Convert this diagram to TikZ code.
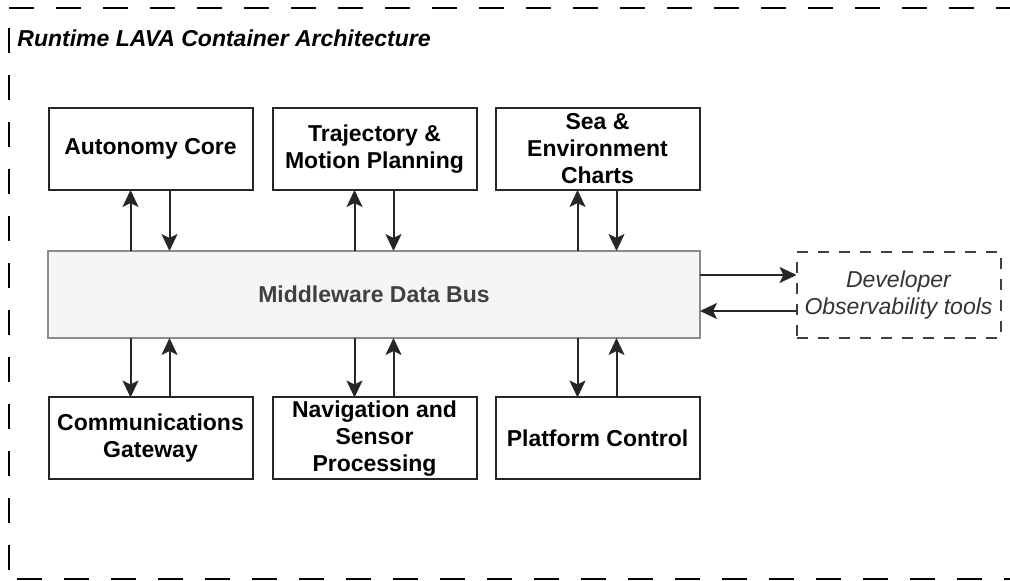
\documentclass[tikz,border=0pt]{standalone}
\usepackage{fontspec}
\setmainfont{Liberation Sans}
\usepackage{xcolor}
\usepackage{tikz}
\usetikzlibrary{arrows.meta}
\definecolor{busfill}{HTML}{F5F5F5}
\definecolor{busline}{HTML}{8C8C8C}
\newcommand{\boxfont}{\fontsize{11.5}{13.5}\selectfont}
\tikzstyle{block} = [draw=black!85, line width=1pt, minimum width=102pt, minimum height=41pt, inner sep=0pt, outer sep=0pt, align=center, font=\boxfont\bfseries]
\tikzstyle{bus} = [block, draw=busline, fill=busfill, minimum width=326pt, minimum height=43.5pt, text=black!75]
\tikzstyle{tool} = [draw=black!75, line width=1pt, dash pattern=on 5.5pt off 5pt, minimum width=102pt, minimum height=43pt, inner sep=0pt, outer sep=0pt, align=center, font=\boxfont\itshape, text=black!80]
\tikzstyle{arrow} = [line width=1pt, draw=black!85, -{Stealth[length=8.5pt,width=8pt,inset=2pt]}]
\tikzstyle{frame} = [line width=1pt, dash pattern=on 12.5pt off 11pt]

\begin{document}
\begin{tikzpicture}[x=0.5pt,y=-0.5pt]
	\useasboundingbox (0,0) rectangle (1010,581);
	
	% Container:
	% Only the top, left and bottom sides are seen, the right one lies outside
	\draw [frame] (9,8) -- (1030,8);
	\draw [frame, dash phase=13.5pt] (9,8) -- (9,579);
	\draw [frame, dash phase=19.5pt] (9,579) -- (1030,579);
	\node [anchor=base west, inner sep=0pt, font=\boxfont\bfseries\itshape] (title) at (17,47) {Runtime LAVA Container Architecture};
	
	% Upper row of services:
	\node [block] (core) at (150.5,149) {Autonomy Core};
	\node [block] (traj) at (374.5,149) {Trajectory \&\\Motion Planning};
	\node [block] (sea) at (597.5,149) {Sea \&\\Environment\\Charts};
	
	% Data bus in the middle:
	\node [bus] (bus) at (374,294.5) {Middleware Data Bus};
	
	% Lower row of services:
	\node [block] (comm) at (150.5,438.5) {Communications\\Gateway};
	\node [block] (nav) at (374.5,438.5) {Navigation and\\Sensor\\Processing};
	\node [block] (plat) at (597.5,438.5) {Platform Control};
	
	% Tools outside the runtime:
	\node [tool] (obs) at (898.5,295) {Developer\\Observability tools};
	
	% Arrows:
	% Each service has one arrow to the bus and one from it
	\foreach \n in {core,traj,sea}
	{
		\draw [arrow] ([xshift=-10pt]\n.south |- bus.north) -- ([xshift=-10pt]\n.south);
		\draw [arrow] ([xshift=9.5pt]\n.south) -- ([xshift=9.5pt]\n.south |- bus.north);
	}
	\foreach \n in {comm,nav,plat}
	{
		\draw [arrow] ([xshift=-10pt]\n.north |- bus.south) -- ([xshift=-10pt]\n.north);
		\draw [arrow] ([xshift=9.5pt]\n.north) -- ([xshift=9.5pt]\n.north |- bus.south);
	}
	
	\draw [arrow] ([yshift=9.75pt]bus.east) -- ([yshift=9.75pt]bus.east -| obs.west);
	\draw [arrow] ([yshift=-8.25pt]bus.east -| obs.west) -- ([yshift=-8.25pt]bus.east);
	
\end{tikzpicture}
\end{document}
